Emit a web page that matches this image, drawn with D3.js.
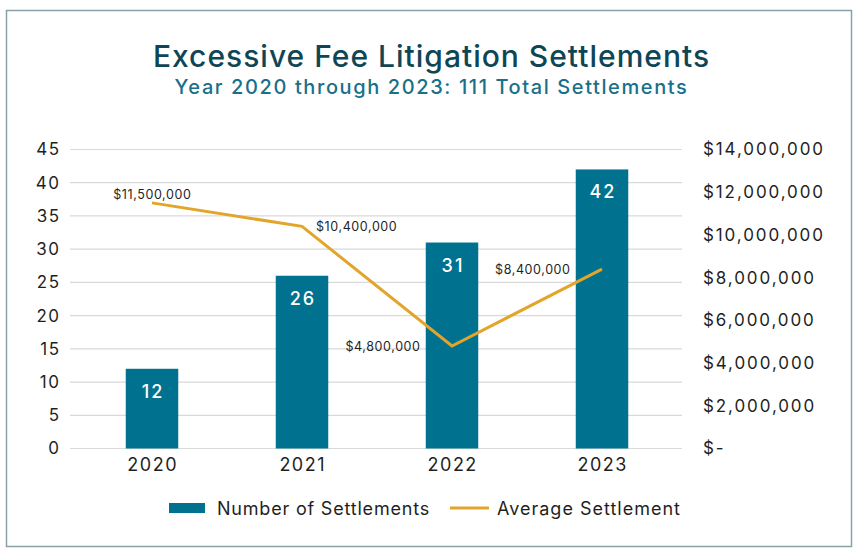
<!DOCTYPE html>
<html>
<head>
<meta charset="utf-8">
<script src="https://cdn.jsdelivr.net/npm/d3@7"></script>
<style>
  html, body { margin: 0; padding: 0; background: #fff; }
  svg { display: block; }
  text { font-family: Inter, "Noto Sans", sans-serif; }
</style>
</head>
<body>
<svg id="chart" width="864" height="557"></svg>
<script>
// ---- data ----
const years = ["2020", "2021", "2022", "2023"];
const settlements = [12, 26, 31, 42];
const averages = [11500000, 10400000, 4800000, 8400000];
const averageLabels = ["$11,500,000", "$10,400,000", "$4,800,000", "$8,400,000"];
const leftTicks = [0, 5, 10, 15, 20, 25, 30, 35, 40, 45];
const rightTicks = [0, 2000000, 4000000, 6000000, 8000000, 10000000, 12000000, 14000000];
const rightTickLabels = ["$-", "$2,000,000", "$4,000,000", "$6,000,000", "$8,000,000", "$10,000,000", "$12,000,000", "$14,000,000"];
const titleText = "Excessive Fee Litigation Settlements";
const subtitleText = "Year 2020 through 2023: 111 Total Settlements";
const legendLabels = ["Number of Settlements", "Average Settlement"];

// ---- layout / style ----
const labelPlacement = ["above", "right", "left", "left"];
const barColor = "#00728f";
const lineColor = "#e2a52a";
const gridColor = "#d9d9d9";
const textColor = "#1f1f1f";

const svg = d3.select("#chart");

// frame
svg.append("rect")
  .attr("x", 6.5).attr("y", 10.5).attr("width", 845).attr("height", 536)
  .attr("fill", "#fff").attr("stroke", "#8aa1ab").attr("stroke-width", 1.5);

// titles
svg.append("text")
  .attr("x", 431.5).attr("y", 66.5).attr("text-anchor", "middle")
  .attr("font-size", 30).attr("font-weight", 500).attr("fill", "#0e4656")
  .attr("letter-spacing", 1.0)
  .text(titleText);
svg.append("text")
  .attr("x", 431.5).attr("y", 94).attr("text-anchor", "middle")
  .attr("font-size", 20).attr("font-weight", 450).attr("fill", "#19708b")
  .attr("letter-spacing", 1.6)
  .text(subtitleText);

// scales
const plotLeft = 70, plotRight = 682, yBottom = 448.5, yTop = 149.5;
const x = d3.scaleBand().domain(years).range([77, 677]).paddingInner(0.65).paddingOuter(0.325);
const yL = d3.scaleLinear().domain([0, 45]).range([yBottom, yTop]);
const yR = d3.scaleLinear().domain([0, 14000000]).range([yBottom, yTop]);

// gridlines
svg.append("g").selectAll("line").data(leftTicks).join("line")
  .attr("x1", plotLeft).attr("x2", plotRight)
  .attr("y1", d => yL(d)).attr("y2", d => yL(d))
  .attr("stroke", gridColor).attr("stroke-width", 1.2);

// left axis
const gL = svg.append("g").attr("transform", `translate(${plotLeft},0)`)
  .call(d3.axisLeft(yL).tickValues(leftTicks).tickSize(0).tickPadding(9.5));
gL.select(".domain").remove();
gL.selectAll("text").attr("font-size", 17).attr("fill", textColor)
  .attr("letter-spacing", 1.5)
  .style("font-family", "Inter, 'Noto Sans', sans-serif");

// right axis
const gR = svg.append("g").attr("transform", `translate(${plotRight},0)`)
  .call(d3.axisRight(yR).tickValues(rightTicks).tickSize(0).tickPadding(21)
    .tickFormat((d, i) => rightTickLabels[i]));
gR.select(".domain").remove();
gR.selectAll("text").attr("font-size", 17).attr("fill", textColor)
  .attr("letter-spacing", 1.9)
  .style("font-family", "Inter, 'Noto Sans', sans-serif");

// bottom axis
const gB = svg.append("g").attr("transform", `translate(0.7,${yBottom})`)
  .call(d3.axisBottom(x).tickSize(0).tickPadding(10));
gB.select(".domain").remove();
gB.selectAll("text").attr("font-size", 18).attr("fill", textColor)
  .attr("letter-spacing", 1.5)
  .style("font-family", "Inter, 'Noto Sans', sans-serif");

// bars
svg.append("g").selectAll("rect").data(years).join("rect")
  .attr("x", d => x(d))
  .attr("width", x.bandwidth())
  .attr("y", (d, i) => yL(settlements[i]))
  .attr("height", (d, i) => yBottom - yL(settlements[i]))
  .attr("fill", barColor);

// bar labels
svg.append("g").selectAll("text").data(years).join("text")
  .attr("x", d => x(d) + x.bandwidth() / 2 + 1)
  .attr("y", (d, i) => yL(settlements[i]) + 29)
  .attr("text-anchor", "middle")
  .attr("font-size", 18).attr("font-weight", 500).attr("fill", "#fff")
  .attr("letter-spacing", 2)
  .text((d, i) => settlements[i]);

// line
const cx = d => x(d) + x.bandwidth() / 2;
const line = d3.line().x(d => cx(d)).y((d, i) => yR(averages[i]));
svg.append("path").datum(years)
  .attr("d", line)
  .attr("fill", "none").attr("stroke", lineColor).attr("stroke-width", 3)
  .attr("stroke-linejoin", "miter");

// line labels
svg.append("g").selectAll("text").data(years).join("text")
  .attr("x", (d, i) => {
    const p = labelPlacement[i];
    if (p === "above") return cx(d) + 0.3;
    if (p === "right") return cx(d) + 14;
    return cx(d) - 32 + 0.6;
  })
  .attr("y", (d, i) => {
    const p = labelPlacement[i];
    const py = yR(averages[i]);
    if (p === "above") return py - 4;
    return py + 5;
  })
  .attr("text-anchor", (d, i) => labelPlacement[i] === "above" ? "middle" : (labelPlacement[i] === "right" ? "start" : "end"))
  .attr("font-size", 12.5).attr("fill", textColor)
  .attr("letter-spacing", 0.6)
  .text((d, i) => averageLabels[i]);

// legend
const lg = svg.append("g");
lg.append("rect").attr("x", 169).attr("y", 503).attr("width", 36).attr("height", 10).attr("fill", barColor);
lg.append("text").attr("x", 217).attr("y", 515).attr("font-size", 18).attr("fill", textColor)
  .attr("letter-spacing", 0.8).text(legendLabels[0]);
lg.append("line").attr("x1", 450).attr("x2", 489).attr("y1", 508).attr("y2", 508)
  .attr("stroke", lineColor).attr("stroke-width", 3);
lg.append("text").attr("x", 497).attr("y", 515).attr("font-size", 18).attr("fill", textColor)
  .attr("letter-spacing", 1.0).text(legendLabels[1]);
</script>
</body>
</html>
